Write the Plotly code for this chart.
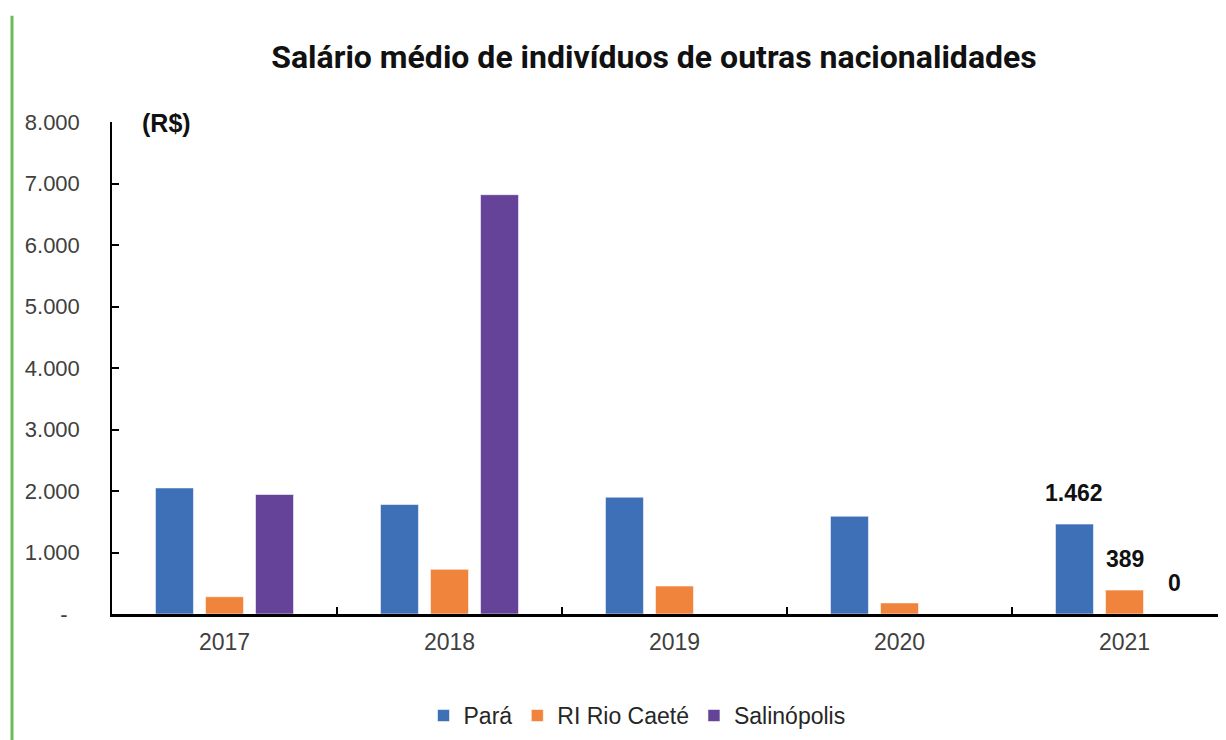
import plotly.graph_objects as go

# ---- data ----
years = ["2017", "2018", "2019", "2020", "2021"]
para = [2050, 1780, 1900, 1590, 1462]
rio_caete = [281, 726, 455, 180, 389]
salinopolis = [1943, 6818, None, None, 0]
series_names = ["Pará", "RI Rio Caeté", "Salinópolis"]
y_tickvals = [0, 1000, 2000, 3000, 4000, 5000, 6000, 7000, 8000]
y_ticktext = ["-\u00a0\u00a0", "1.000", "2.000", "3.000", "4.000", "5.000", "6.000", "7.000", "8.000"]
label_year = "2021"

colors = ["#3E70B8", "#F0843C", "#654399"]
all_series = [para, rio_caete, salinopolis]

# page has an 8px body margin; figure coordinates = page coordinates - 8
OFF = 8
W, H = 1226 - OFF, 740 - OFF
ml, mr = 112 - OFF, 0
mt = 121.5 - OFF
mb = H - (614.3 - OFF)
plot_w = W - ml - mr
plot_h = H - mt - mb
cat_px = 225.0


def px(xp):
    return (xp - OFF - ml) / plot_w


def py(yp):
    return (H - mb - (yp - OFF)) / plot_h


fig = go.Figure()
for name, vals, col in zip(series_names, all_series, colors):
    fig.add_trace(go.Bar(
        x=years, y=vals, name=name,
        marker=dict(color=col, line=dict(color="rgba(255,255,255,0.55)", width=1)),
    ))

# data labels for the last year
idx = years.index(label_year)
bargap = 0.333
slot_px = cat_px * (1 - bargap) / 3
for i, vals in enumerate(all_series):
    v = vals[idx]
    if v is None:
        continue
    txt = f"{v:,}".replace(",", ".")
    fig.add_annotation(
        x=idx, y=v, xref="x", yref="y",
        text=f"<b>{txt}</b>", showarrow=False,
        xshift=(i - 1) * slot_px, yshift=31, yanchor="middle", xanchor="center",
        font=dict(family="Liberation Sans, Arial", size=23, color="#111111"),
    )

# (R$) unit label
fig.add_annotation(
    x=px(166), y=py(123), xref="paper", yref="paper",
    text="<b>(R$)</b>", showarrow=False, xanchor="center", yanchor="middle",
    font=dict(family="Liberation Sans, Arial", size=25, color="#111111"),
)

# green decorative line at left edge
fig.add_shape(
    type="line", xref="paper", yref="paper",
    x0=px(12), x1=px(12), y0=py(745), y1=py(15),
    line=dict(color="#6DBB57", width=3),
)

fig.update_layout(
    width=W, height=H,
    margin=dict(l=ml, r=mr, t=mt, b=mb, autoexpand=False),
    paper_bgcolor="white", plot_bgcolor="white",
    barmode="group", bargap=bargap, bargroupgap=0.24,
    title=dict(
        text="<b>Salário médio de indivíduos de outras nacionalidades</b>",
        x=(654 - OFF) / W, xref="container", xanchor="center",
        y=1 - (57 - OFF) / H, yref="container", yanchor="middle",
        font=dict(family="Roboto, Liberation Sans", size=32, color="#111111"),
    ),
    font=dict(family="Liberation Sans, Arial", size=22, color="#404040"),
    showlegend=True,
    legend=dict(
        orientation="h", x=px(637), xanchor="center",
        y=py(716), yanchor="middle",
        font=dict(family="Liberation Sans, Arial", size=23, color="#262626"),
        itemwidth=30, traceorder="normal",
    ),
    xaxis=dict(
        type="category", categoryorder="array", categoryarray=years,
        range=[-0.5, -0.5 + plot_w / cat_px],
        showline=True, linecolor="black", linewidth=2.5,
        ticks="inside", tickson="boundaries", ticklen=7, tickwidth=2, tickcolor="black",
        showgrid=False, zeroline=False,
        tickfont=dict(family="Liberation Sans, Arial", size=23, color="#404040"),
        ticklabelstandoff=6,
    ),
    yaxis=dict(
        range=[0, 8000], tickmode="array", tickvals=y_tickvals, ticktext=y_ticktext,
        showline=True, linecolor="black", linewidth=1.5,
        ticks="inside", ticklen=7, tickwidth=1.5, tickcolor="black",
        showgrid=False, zeroline=False,
        tickfont=dict(family="Liberation Sans, Arial", size=22, color="#404040"),
        ticklabelstandoff=26,
    ),
)

fig.write_html("out.html")
